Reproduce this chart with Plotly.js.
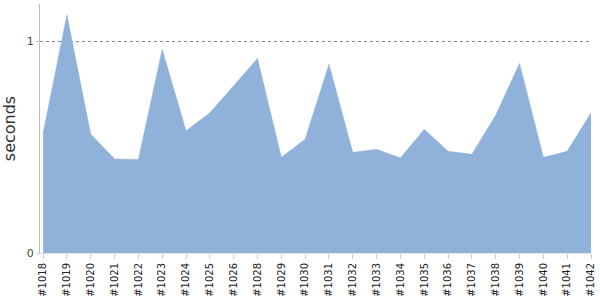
<!DOCTYPE html>
<html>
<head>
<meta charset="utf-8">
<script src="https://cdn.plot.ly/plotly-3.0.1.min.js"></script>
<style>html,body{margin:0;padding:0;background:#fff}#chart{width:600px;height:300px}</style>
</head>
<body>
<div id="chart"></div>
<script>
const builds = ["#1018","#1019","#1020","#1021","#1022","#1023","#1024","#1025","#1026","#1028","#1029","#1030","#1031","#1032","#1033","#1034","#1035","#1036","#1037","#1038","#1039","#1040","#1041","#1042"];
const seconds = [0.566,1.126,0.562,0.445,0.442,0.963,0.578,0.663,0.791,0.920,0.453,0.538,0.893,0.476,0.491,0.449,0.585,0.481,0.467,0.652,0.897,0.453,0.481,0.664];
const yTicks = [0, 1];

const trace = {
  x: builds, y: seconds, type: 'scatter', mode: 'lines',
  fill: 'tozeroy', fillcolor: '#8fb1da',
  line: {color: '#8fb1da', width: 0.5, shape: 'linear'},
  hoverinfo: 'x+y'
};
const layout = {
  width: 600, height: 300,
  margin: {l: 40, r: 9, t: 4, b: 47},
  paper_bgcolor: '#fff', plot_bgcolor: '#fff',
  font: {family: 'DejaVu Sans, sans-serif', color: '#333', size: 10},
  showlegend: false,
  xaxis: {
    type: 'category', range: [-0.13, 23],
    tickangle: -90, tickfont: {size: 10, color: '#222'},
    ticks: 'outside', ticklen: 5, tickcolor: '#ccc', tickwidth: 1,
    showline: true, linecolor: '#e0e0e0', linewidth: 1,
    showgrid: false, zeroline: false
  },
  yaxis: {
    range: [0, 1.178], tickvals: yTicks, ticktext: yTicks.map(String),
    tickfont: {size: 11, color: '#444'},
    ticks: 'outside', ticklen: 3, tickcolor: '#ccc',
    showline: true, linecolor: '#bbb', linewidth: 1,
    showgrid: true, gridcolor: '#888', griddash: 'dot', gridwidth: 1,
    zeroline: false,
    title: {text: 'seconds', font: {size: 16, color: '#333'}, standoff: 9}
  }
};
Plotly.newPlot('chart', [trace], layout, {displayModeBar: false, staticPlot: true});
</script>
</body>
</html>
